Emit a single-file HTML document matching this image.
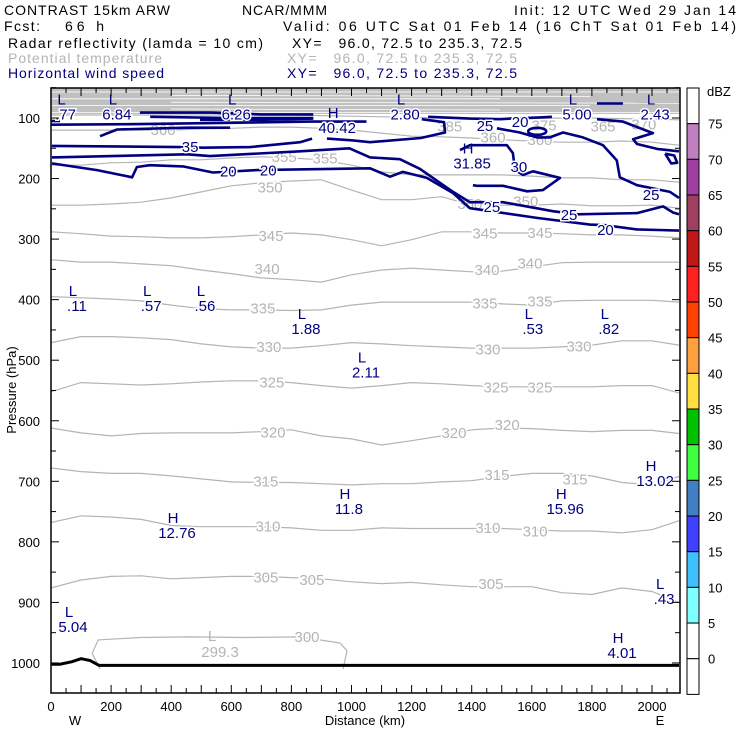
<!DOCTYPE html>
<html><head><meta charset="utf-8"><style>
body{margin:0;background:#fff}
svg{display:block;font-family:"Liberation Sans",sans-serif}
.g{fill:none;stroke:#b4b4b4;stroke-width:1.2}
.w{fill:none;stroke:#000080;stroke-width:2.6;stroke-linejoin:round}
.gl{fill:#b4b4b4;font-size:15px;paint-order:stroke;stroke:#fff;stroke-width:3}
.wl{fill:#000080;font-size:15px;paint-order:stroke;stroke:#fff;stroke-width:3}
.hl{fill:#000080;font-size:15px}
</style></head><body>
<svg id="chart" width="740" height="740" viewBox="0 0 740 740">
<g font-size="14">
<text x="4" y="15" textLength="166">CONTRAST 15km ARW</text>
<text x="242" y="15" textLength="85">NCAR/MMM</text>
<text x="514" y="15" textLength="222">Init: 12 UTC Wed 29 Jan 14</text>
<text x="4" y="31" textLength="36">Fcst:</text>
<text x="65" y="31" textLength="39">66 h</text>
<text x="283" y="31" textLength="453">Valid: 06 UTC Sat 01 Feb 14 (16 ChT Sat 01 Feb 14)</text>
<text x="8" y="48" textLength="255">Radar reflectivity (lamda = 10 cm)</text>
<text x="292" y="48" textLength="230" xml:space="preserve">XY=   96.0, 72.5 to 235.3, 72.5</text>
<text x="8" y="63" textLength="154" fill="#b4b4b4">Potential temperature</text>
<text x="287" y="63" textLength="230" fill="#b4b4b4" xml:space="preserve">XY=   96.0, 72.5 to 235.3, 72.5</text>
<text x="8" y="78" textLength="156" fill="#000080">Horizontal wind speed</text>
<text x="287" y="78" textLength="230" fill="#000080" xml:space="preserve">XY=   96.0, 72.5 to 235.3, 72.5</text>
</g>
<g id="plot"></g>
</svg>
<script>
// ---- data ----
const xTicks=[0,200,400,600,800,1000,1200,1400,1600,1800,2000];
const pTicks=[100,200,300,400,500,600,700,800,900,1000];
const thetaX=[0,100,200,300,400,500,600,700,800,900,1000,1100,1200,1300,1400,1500,1600,1700,1800,1900,2000,2090];
const thetaLevels=[365,360,355,350,345,340,335,330,325,320,315,310,305];
const th365=[95,95,95,95,95,95,95,95,95,96,97,98,99,100,100,101,101,100,100,101,102,103];
const th360=[120,120,120,120,120,118,117,115,115,117,120,125,130,131,133,136,138,140,140,138,140,145];
const th355=[178,178,174,173,169,169,166,164,166,169,178,189,194,194,194,194,196,199,199,202,202,206];
const th350=[244,244,242,239,232,222,212,207,204,202,219,235,235,230,244,244,244,242,245,245,244,249];
const th345=[288,291,295,296,298,298,296,293,290,293,301,311,301,288,288,290,290,291,293,293,295,298];
const th340=[334,338,338,341,344,351,357,364,367,371,359,351,348,351,354,353,346,339,338,338,338,338];
const th335=[395,397,399,402,409,415,417,417,418,417,409,404,404,404,404,407,409,402,401,401,401,404];
const th330=[471,461,461,463,466,473,478,480,480,476,471,473,476,478,480,480,480,478,475,468,468,475];
const th325=[552,537,539,541,539,536,534,534,537,542,546,542,537,539,542,544,544,544,544,542,542,554];
const th320=[612,620,625,621,620,620,620,618,615,625,630,640,633,625,615,612,613,616,618,616,616,621];
const th315=[678,684,687,687,691,696,701,702,702,704,706,704,704,701,699,692,687,687,691,702,706,692];
const th310=[768,757,759,763,773,775,775,775,777,781,781,777,778,778,778,778,780,782,782,785,780,765];
const th305=[876,863,857,856,861,859,857,857,859,861,866,869,867,871,874,874,874,884,887,876,882,900];
const thetaSeries=[th365,th360,th355,th350,th345,th340,th335,th330,th325,th320,th315,th310,th305];
// closed 300 K contour [km, hPa]
const th300=[[163,1010],[137,984],[157,962],[296,958],[463,957],[646,958],[829,957],[962,967],[985,980],[972,1010]];
// theta labels [text, km, hPa]
const thetaLabels=[["360",373,120],["355",776,164],["355",912,167],["385",1327,114],["375",1641,112],["365",1837,114],["370",1973,111],["360",1471,132],["360",1627,136],
["350",729,215],["350",1394,242],["350",1580,238],["345",732,295],["345",1444,291],["345",1627,290],["340",719,349],["340",1451,351],["340",1594,340],["335",705,415],["335",1444,406],["335",1627,403],
["330",725,478],["330",1454,482],["330",1757,477],["325",735,537],["325",1481,545],["325",1627,545],["320",739,619],["320",1341,620],["320",1518,607],["315",715,700],["315",1484,690],["315",1744,697],
["310",722,775],["310",1454,777],["310",1611,783],["305",715,859],["305",868,863],["305",1464,870],["300",852,957]];
// wind speed contours, each a list of [km, hPa]
const windLines=[
 [[0,105],[30,105]],
[[296,91],[533,91],[699,94],[873,94]],
[[330,98],[596,100],[873,100]],
[[496,103],[696,103],[873,101]],
[[0,111],[296,110],[596,108],[863,106],[1050,106]],
[[163,130],[220,119],[453,116],[596,116]],
[[3,146],[430,148],[506,149],[663,148],[829,140],[869,134]],
[[918,134],[1005,137],[1062,140],[1231,133],[1311,124],[1308,107],[1234,102]],
[[3,165],[453,160],[529,163],[829,155],[993,150],[1062,165],[1161,168],[1228,184],[1338,222],[1394,239],[1428,239],[1504,239],[1670,254],[1750,259],[1950,257],[2037,246],[2070,256],[2090,259]],
[[3,175],[153,186],[270,198],[286,181],[329,178],[439,180],[539,190],[685,186],[1062,183],[1128,197],[1171,189],[1251,199],[1338,224],[1394,249],[1617,265],[1793,276],[1843,277],[1950,284],[2020,285],[2090,286]],
[[1361,153],[1394,145],[1517,145],[1537,158],[1544,186],[1571,194],[1604,188],[1694,199],[1637,219],[1584,221],[1504,212],[1417,212],[1404,211]],
[[1484,117],[1560,124],[1617,132],[1660,132],[1704,124],[1770,132],[1837,145],[1883,170],[1893,198],[1950,211],[2060,222],[2090,232]],
[[1817,102],[1903,106],[2003,125],[1937,135],[1950,143],[2017,151],[2090,155]],
[[1255,98],[1394,101],[1494,102],[1527,101],[1627,99],[1667,98]],
[[1817,76],[1903,76]],
[[2044,159],[2074,162],[2084,174],[2064,175],[2044,159]]
];
const windEllipse=[[1618,122]];
const windLabels=[["35",463,148],["20",590,188],["20",723,187],["25",1444,113],["20",1561,107],["30",1557,181],["25",1467,247],["25",1724,260],["20",1845,285],["25",1997,227]];
// extrema labels (baseline positions)
const extLetters=["L","L","L","H","L","L","L","L","L","L","L","L","L","L","H","H","H","H","L","L","H","H"];
const extValues=[".77","6.84","6.26","40.42","2.80","5.00","2.43",".11",".57",".56","1.88","2.11",".53",".82","31.85","11.8","15.96","12.76",".43","5.04","4.01","13.02"];
const extX=[35,206,603,939,1165,1737,1997,73,320,499,835,1035,1590,1843,1388,978,1698,406,2027,60,1887,1997];
const extP=[78,78,78,100,78,78,78,394,394,394,432,504,432,432,159,729,729,769,878,924,967,683];
const grayExt=[["L","299.3",536,964]];
// ground surface
const groundX=[0,30,70,100,130,160,2090];
const groundP=[1002,1002,998,993,996,1004,1004];
// colorbar
const cbColors=["#ffffff","#bf80bf","#9e40a0","#a04060","#c01818","#ff2020","#ff4000","#ffa040","#ffe040","#00c000","#40ff40","#4080c0","#4040ff","#40c0ff","#80ffff","#ffffff","#ffffff"];
const cbLabels=["75","70","65","60","55","50","45","40","35","30","25","20","15","10","5","0"];

// ---- scales ----
const X0=51,X1=680,Y0=88,Y1=693;
const xS=k=>X0+k*0.3005;
const yS=p=>118+(p-100)*0.6055;
const NS="http://www.w3.org/2000/svg";
const plot=document.getElementById('plot');
function mk(tag,attrs,parent){const e=document.createElementNS(NS,tag);for(const k in attrs)e.setAttribute(k,attrs[k]);(parent||plot).appendChild(e);return e;}
const clip=mk('clipPath',{id:'pc'});mk('rect',{x:X0,y:Y0,width:X1-X0,height:Y1-Y0},clip);
const inner=mk('g',{'clip-path':'url(#pc)'});



// stratospheric dense theta band
const band=mk('rect',{x:X0,y:Y0,width:X1-X0,height:26,fill:'#c0c0c0'},inner);


for(let i=0;i<7;i++){const l=mk('line',{x1:X0+ (i%2)*120,x2:X1-(i%3)*90,y1:Y0+4+i*3.4,y2:Y0+4+i*3.4+(i%2),stroke:'#fff','stroke-width':0.8},inner);

}

thetaSeries.forEach((s,i)=>{
 const d=s.map((p,j)=>(j?'L':'M')+xS(thetaX[j]).toFixed(1)+','+yS(p).toFixed(1)).join('');
 const e=mk('path',{d:d,class:'g'},inner);
 
 
});
{const d=th300.map((q,j)=>(j?'L':'M')+xS(q[0]).toFixed(1)+','+yS(q[1]).toFixed(1)).join('');
 const e=mk('path',{d:d,class:'g'},inner);
 
 }
thetaLabels.forEach(t=>{const e=mk('text',{x:xS(t[1]),y:yS(t[2])+5,class:'gl','text-anchor':'middle'},inner);e.textContent=t[0];
 
 });

windLines.forEach((ln,i)=>{
 const d=ln.map((q,j)=>(j?'L':'M')+xS(q[0]).toFixed(1)+','+yS(q[1]).toFixed(1)).join('');
 const e=mk('path',{d:d,class:'w'},inner);
 if(i>=1&&i<=4)e.setAttribute('stroke-width','4');
 
 
});
windEllipse.forEach(q=>{const e=mk('ellipse',{cx:xS(q[0]),cy:yS(q[1]),rx:9,ry:3.5,class:'w'},inner);
 
 });
windLabels.forEach(t=>{const e=mk('text',{x:xS(t[1]),y:yS(t[2])+5,class:'wl','text-anchor':'middle'},inner);e.textContent=t[0];
 
 });

extLetters.forEach((L,i)=>{
 const x=xS(extX[i]),y=yS(extP[i]);
 const a=mk('text',{x:x,y:y,class:'hl','text-anchor':'middle'},inner);a.textContent=L;
 
 
 if(extValues[i]){const b=mk('text',{x:x+4,y:y+15,class:'wl','text-anchor':'middle'},inner);b.textContent=extValues[i];
 
 }
});
grayExt.forEach(g=>{const x=xS(g[2]),y=yS(g[3]);
 const a=mk('text',{x:x,y:y,fill:'#b4b4b4','font-size':15,'text-anchor':'middle'},inner);a.textContent=g[0];
 
 
 const b=mk('text',{x:x+8,y:y+16,fill:'#b4b4b4','font-size':15,'text-anchor':'middle'},inner);b.textContent=g[1];
 
 });

{const d=groundX.map((k,j)=>(j?'L':'M')+xS(k).toFixed(1)+','+yS(groundP[j]).toFixed(1)).join('');
 const e=mk('path',{d:d,fill:'none',stroke:'#000','stroke-width':3},inner);
 
 }

// frame & ticks
const fr=mk('rect',{x:X0,y:Y0,width:X1-X0,height:Y1-Y0,fill:'none',stroke:'#000','stroke-width':1.5});


for(let k=0;k<=2090;k+=50){const L=k%100==0?8:5;const x=xS(k);
 mk('line',{x1:x,x2:x,y1:Y1,y2:Y1-L,stroke:'#000'});mk('line',{x1:x,x2:x,y1:Y0,y2:Y0+L,stroke:'#000'});}
for(let p=50;p<=1040;p+=50){const L=p%100==0?8:5;const y=yS(p);
 mk('line',{x1:X0,x2:X0+L,y1:y,y2:y,stroke:'#000'});mk('line',{x1:X1,x2:X1-L,y1:y,y2:y,stroke:'#000'});}
xTicks.forEach(k=>{const e=mk('text',{x:xS(k),y:711,'font-size':13,'text-anchor':'middle'});e.textContent=k;
 
 });
pTicks.forEach(p=>{const e=mk('text',{x:40,y:yS(p)+5,'font-size':13,'text-anchor':'end'});e.textContent=p;
 
 });
{let e=mk('text',{x:365,y:725,'font-size':13,'text-anchor':'middle'});e.textContent='Distance (km)';
 
 
 e=mk('text',{x:0,y:0,'font-size':13,'text-anchor':'middle',transform:'translate(16,390) rotate(-90)'});e.textContent='Pressure (hPa)';
 
 
 e=mk('text',{x:75,y:725,'font-size':13,'text-anchor':'middle'});e.textContent='W';
 
 
 e=mk('text',{x:660,y:725,'font-size':13,'text-anchor':'middle'});e.textContent='E';
 
 }

// colorbar
const cbH=35.67;
cbColors.forEach((c,i)=>{const r=mk('rect',{x:687,y:88+i*cbH,width:12,height:cbH,fill:c,stroke:'#000','stroke-width':1});
 
 });
cbLabels.forEach((t,i)=>{const e=mk('text',{x:708,y:88+(i+1)*cbH+5,'font-size':13});e.textContent=t;
 
 });
{const e=mk('text',{x:707,y:96,'font-size':13});e.textContent='dBZ';
 
 }
</script>
</body></html>
